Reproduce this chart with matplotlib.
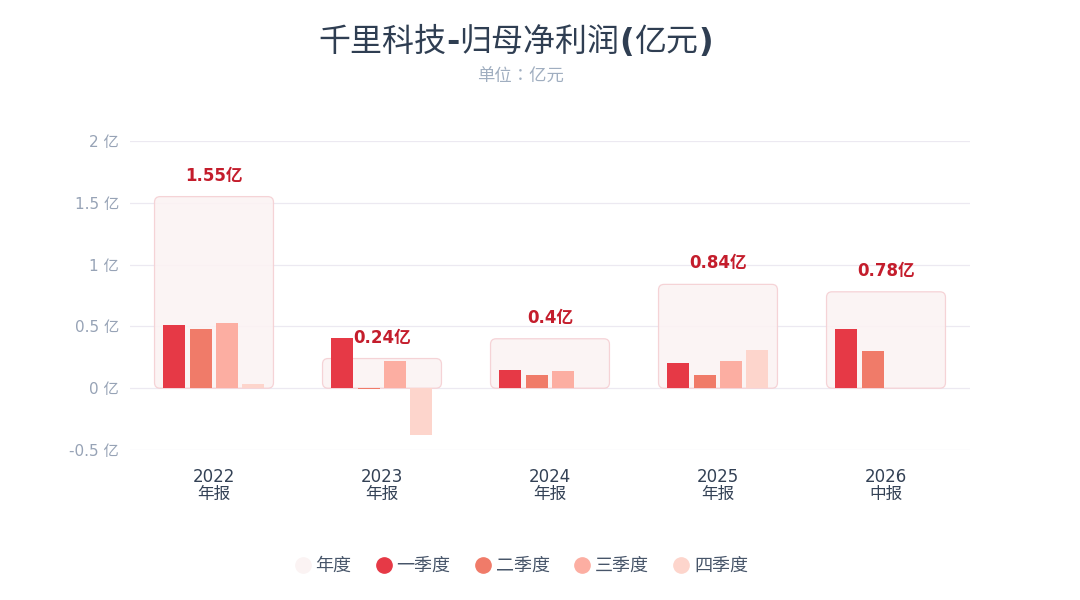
import numpy as np
import matplotlib.pyplot as plt
from matplotlib.patches import FancyBboxPatch
from matplotlib.lines import Line2D

plt.rcParams['font.family'] = ['DejaVu Sans', 'Noto Sans CJK SC']

# data (亿元)
years = ['2022', '2023', '2024', '2025', '2026']
periods = ['年报', '年报', '年报', '年报', '中报']
annual = [1.55, 0.24, 0.40, 0.84, 0.78]
annual_labels = ['1.55亿', '0.24亿', '0.4亿', '0.84亿', '0.78亿']
q1 = [0.51, 0.41, 0.15, 0.20, 0.48]
q2 = [0.48, -0.01, 0.11, 0.11, 0.30]
q3 = [0.53, 0.22, 0.14, 0.22, np.nan]
q4 = [0.03, -0.38, 0.00, 0.31, np.nan]
yticks = [-0.5, 0, 0.5, 1, 1.5, 2]
ytick_labels = ['-0.5 亿', '0 亿', '0.5 亿', '1 亿', '1.5 亿', '2 亿']

q_colors = ['#e63946', '#f07b69', '#fcaea2', '#fdd5cc']
box_face = '#fbf3f3'
box_edge = '#f5cfd3'
label_color = '#c41d2c'
title_color = '#2f3e52'

fig = plt.figure(figsize=(10.8, 6), dpi=100)
fig.patch.set_facecolor('white')
ax = fig.add_axes([130 / 1080, 1 - 450 / 600, 840 / 1080, 309 / 600])

x = np.arange(len(years))
bar_w = 0.131
offsets = [-0.236, -0.079, 0.078, 0.234]

# annual boxes behind the quarter bars
box_w = 0.708
for xi, v in zip(x, annual):
    p = FancyBboxPatch((xi - box_w / 2, 0), box_w, v,
                       boxstyle='round,pad=0,rounding_size=0.033',
                       mutation_aspect=1.36,
                       facecolor=box_face, edgecolor=box_edge, linewidth=0.9,
                       alpha=0.9, zorder=1)
    ax.add_patch(p)
    ax.annotate(annual_labels[xi], (xi, v), xytext=(0, 21), textcoords='offset pixels',
                ha='center', va='center', fontsize=12, fontweight='bold',
                color=label_color, zorder=5)

for series, off, col in zip([q1, q2, q3, q4], offsets, q_colors):
    ax.bar(x + off, series, width=bar_w, color=col, zorder=3, linewidth=0)

ax.set_xlim(-0.5, len(years) - 0.5)
ax.set_ylim(-0.5, 2.0)
ax.set_yticks(yticks)
ax.set_yticklabels(ytick_labels, fontsize=11, color='#97a3b6')
ax.set_xticks(x)
ax.set_xticklabels([f'{y}\n{p}' for y, p in zip(years, periods)], fontsize=12,
                   color='#334155', linespacing=0.95)
ax.tick_params(axis='both', length=0)
ax.tick_params(axis='y', pad=8)
ax.tick_params(axis='x', pad=13)
ax.grid(axis='y', color='#ece9f1', linewidth=0.9, zorder=0)
ax.set_axisbelow(True)
for s in ax.spines.values():
    s.set_visible(False)

# title: CJK regular, latin punctuation bold, pieces chained left to right
title_parts = [('千里科技', 'normal'), ('-', 'bold'), ('归母净利润', 'normal'),
               ('(', 'bold'), ('亿元', 'normal'), (')', 'bold')]
anchor = fig.text(318 / 1080, 1 - 42 / 600, title_parts[0][0], ha='left', va='center',
                  fontsize=23, color=title_color)
for txt, w in title_parts[1:]:
    anchor = ax.annotate(txt, xy=(1, 0.5), xycoords=anchor, ha='left', va='center',
                         fontsize=23, fontweight=w, color=title_color,
                         annotation_clip=False)

fig.text(520 / 1080, 1 - 77 / 600, '单位：亿元', ha='center', va='center',
         fontsize=12.5, color='#a0aec0', family='Noto Sans CJK TC')

handles = [Line2D([0], [0], marker='o', linestyle='none', markersize=11,
                  markerfacecolor=c, markeredgecolor=c)
           for c in [box_face] + q_colors]
fig.legend(handles, ['年度', '一季度', '二季度', '三季度', '四季度'],
           loc='center', bbox_to_anchor=(520 / 1080, 1 - 566 / 600), ncol=5,
           frameon=False, fontsize=13, labelcolor='#475569',
           handletextpad=0.1, columnspacing=1.2, handlelength=1.2)

fig.savefig('out.png', dpi=100, facecolor='white')
